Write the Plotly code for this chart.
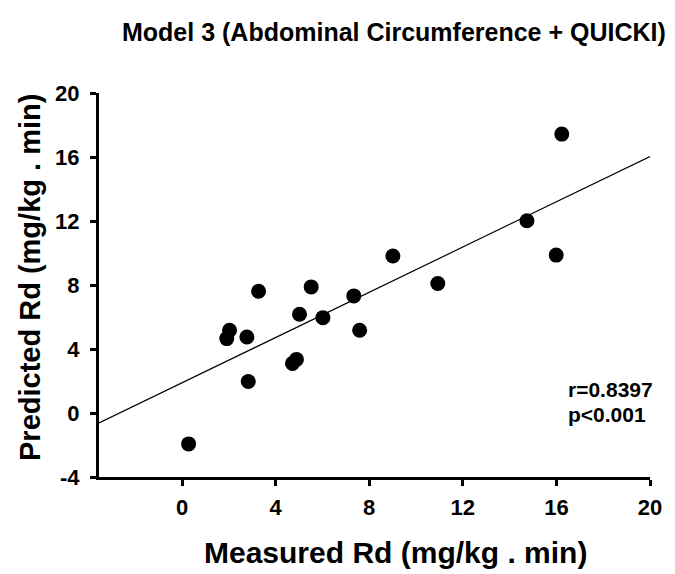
import plotly.graph_objects as go

# Data
measured_rd = [0.28, 1.91, 2.03, 2.77, 2.83, 3.27, 4.72, 4.89, 5.02, 5.52,
               6.02, 7.34, 7.59, 9.01, 10.93, 14.74, 15.99, 16.23]
predicted_rd = [-1.93, 4.65, 5.17, 4.75, 1.97, 7.61, 3.10, 3.35, 6.17, 7.88,
                5.96, 7.32, 5.17, 9.81, 8.09, 12.02, 9.87, 17.43]
fit_slope = 0.707
fit_intercept = 1.89
x_ticks = [0, 4, 8, 12, 16, 20]
y_ticks = [-4, 0, 4, 8, 12, 16, 20]
x_range = [-3.55, 20]
y_range = [-4, 20]
stats_text = ["r=0.8397", "p<0.001"]

FONT = "Liberation Sans, Arial, sans-serif"
W, H = 675, 574
L, R, T, B = 99, 25, 93, 97

fit_x = [x_range[0], x_range[1]]
fit_y = [fit_intercept + fit_slope * v for v in fit_x]

fig = go.Figure()
fig.add_trace(go.Scatter(x=fit_x, y=fit_y, mode="lines",
                         line=dict(color="black", width=1.2),
                         showlegend=False, hoverinfo="skip"))
fig.add_trace(go.Scatter(x=measured_rd, y=predicted_rd, mode="markers",
                         marker=dict(color="black", size=15),
                         showlegend=False, cliponaxis=False))

def px_to_paper(px, py):
    return (px - L) / (W - L - R), (H - B - py) / (H - T - B)

annotations = []
tx, ty = px_to_paper(394, 32)
annotations.append(dict(text="<b>Model 3 (Abdominal Circumference + QUICKI)</b>",
                        x=tx, y=ty, xref="paper", yref="paper", showarrow=False,
                        font=dict(family=FONT, size=25, color="black"),
                        xanchor="center", yanchor="middle"))
ax_, ay_ = px_to_paper(395, 552)
annotations.append(dict(text="<b>Measured Rd (mg/kg . min)</b>",
                        x=ax_, y=ay_, xref="paper", yref="paper", showarrow=False,
                        font=dict(family=FONT, size=30, color="black"),
                        xanchor="center", yanchor="middle"))
bx, by = px_to_paper(30, 278)
annotations.append(dict(text="<b>Predicted Rd (mg/kg . min)</b>",
                        x=bx, y=by, xref="paper", yref="paper", showarrow=False,
                        textangle=-90,
                        font=dict(family=FONT, size=29, color="black"),
                        xanchor="center", yanchor="middle"))
for i, s in enumerate(stats_text):
    sx, sy = px_to_paper(566, 389 + 25 * i)
    annotations.append(dict(text="<b>" + s + "</b>",
                            x=sx, y=sy, xref="paper", yref="paper", showarrow=False,
                            font=dict(family=FONT, size=21, color="black"),
                            xanchor="left", yanchor="middle"))

fig.update_layout(
    width=W, height=H,
    margin=dict(l=L, r=R, t=T, b=B),
    paper_bgcolor="white", plot_bgcolor="white",
    font=dict(family=FONT, color="black"),
    annotations=annotations,
    showlegend=False,
)
fig.update_xaxes(range=x_range, tickvals=x_ticks,
                 ticktext=["<b>%d</b>" % v for v in x_ticks],
                 showgrid=False, zeroline=False,
                 showline=True, linecolor="black", linewidth=3,
                 ticks="outside", ticklen=6, tickwidth=3, tickcolor="black",
                 ticklabelstandoff=3,
                 tickfont=dict(family=FONT, size=22, color="black"))
fig.update_yaxes(range=y_range, tickvals=y_ticks,
                 ticktext=["<b>%d</b>" % v for v in y_ticks],
                 showgrid=False, zeroline=False,
                 showline=True, linecolor="black", linewidth=3,
                 ticks="outside", ticklen=6, tickwidth=3, tickcolor="black",
                 ticklabelstandoff=6,
                 tickfont=dict(family=FONT, size=22, color="black"))

fig.write_html("out.html", config={"displayModeBar": False},
               post_script="document.body.style.margin='0';document.body.style.padding='0';")
